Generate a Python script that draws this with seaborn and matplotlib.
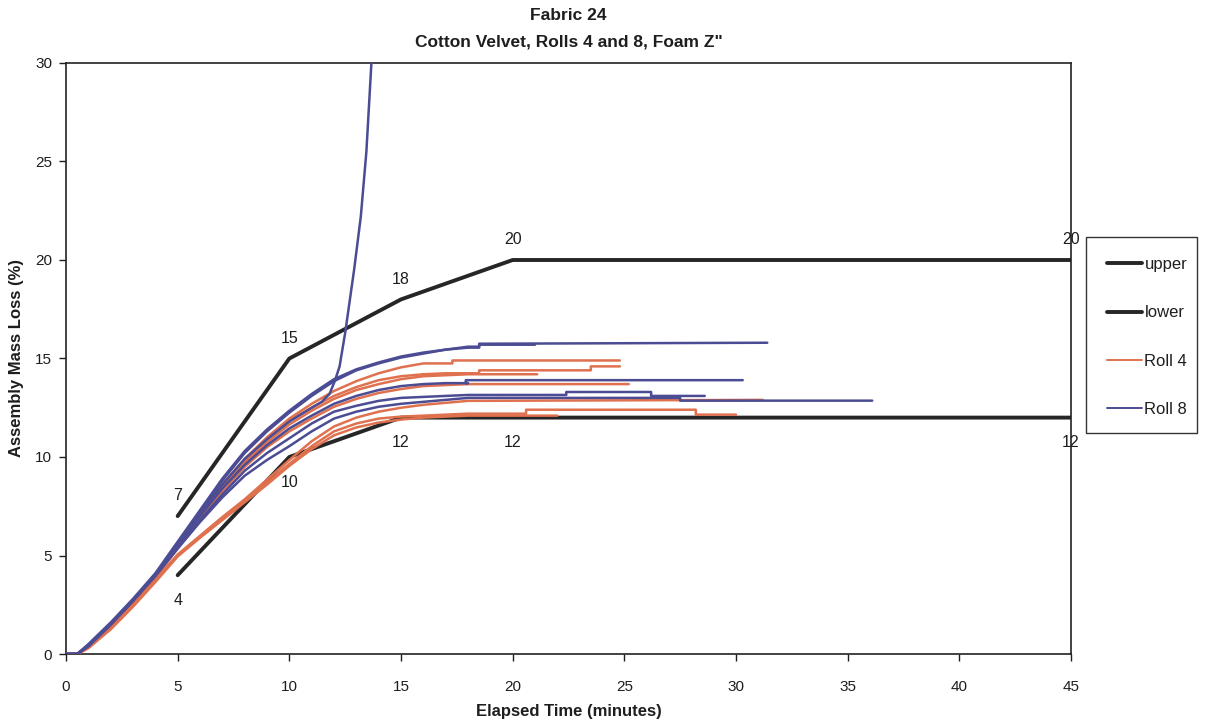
import matplotlib
matplotlib.use("Agg")
import matplotlib.pyplot as plt
import seaborn as sns
import pandas as pd
from matplotlib.lines import Line2D
from matplotlib.patches import Rectangle

# ---------------- data ----------------
upper_t = [5, 10, 15, 20, 45]
upper_y = [7, 15, 18, 20, 20]
lower_t = [5, 10, 15, 20, 45]
lower_y = [4, 10, 12, 12, 12]

upper_labels = ["7", "15", "18", "20", "20"]
lower_labels = ["4", "10", "12", "12", "12"]

rise_t = [0, 0.5, 1, 2, 3, 4, 5, 6, 7, 8, 9, 10, 11, 12, 13, 14, 15, 16, 17, 18]

# Roll 8 (blue) runs
r8_a_t = rise_t + [18.5, 18.5, 31.4]
r8_a_y = [0, 0, 0.5, 1.6, 2.8, 4.1, 5.7, 7.3, 8.9, 10.3, 11.4, 12.35, 13.2, 13.95, 14.45, 14.8, 15.1, 15.3, 15.45, 15.6, 15.6, 15.75, 15.8]
r8_b_t = rise_t + [18.5, 18.5, 21.0]
r8_b_y = [0, 0, 0.45, 1.55, 2.75, 4.0, 5.6, 7.2, 8.8, 10.2, 11.3, 12.25, 13.1, 13.85, 14.4, 14.75, 15.05, 15.25, 15.45, 15.55, 15.55, 15.7, 15.7]
r8_c_t = [0, 0.5, 1, 2, 3, 4, 5, 6, 7, 8, 9, 10, 11, 11.45, 11.8, 12.05, 12.25, 12.5, 12.9, 13.2, 13.45, 13.7]
r8_c_y = [0, 0, 0.4, 1.5, 2.7, 4.0, 5.5, 7.1, 8.6, 9.9, 10.9, 11.8, 12.5, 12.8, 13.2, 13.9, 14.6, 16.3, 19.5, 22.2, 25.5, 30.5]
r8_d_t = rise_t + [17.9, 17.9, 30.3]
r8_d_y = [0, 0, 0.4, 1.5, 2.7, 4.0, 5.5, 7.0, 8.4, 9.6, 10.6, 11.45, 12.1, 12.7, 13.1, 13.4, 13.6, 13.7, 13.75, 13.75, 13.75, 13.9, 13.9]
r8_e_t = rise_t + [22.4, 22.4, 26.2, 26.2, 28.6]
r8_e_y = [0, 0, 0.4, 1.5, 2.7, 4.0, 5.4, 6.8, 8.1, 9.3, 10.2, 10.95, 11.7, 12.3, 12.6, 12.85, 13.0, 13.05, 13.1, 13.15, 13.15, 13.3, 13.3, 13.1, 13.1]
r8_f_t = rise_t + [27.5, 27.5, 36.1]
r8_f_y = [0, 0, 0.4, 1.5, 2.7, 3.95, 5.35, 6.7, 7.95, 9.05, 9.85, 10.55, 11.3, 11.95, 12.3, 12.55, 12.7, 12.8, 12.9, 13.0, 13.0, 12.86, 12.86]

# Roll 4 (orange) runs
r4_a_t = rise_t[:-2] + [17.3, 17.3, 24.8]
r4_a_y = [0, 0, 0.4, 1.5, 2.7, 4.0, 5.5, 7.1, 8.6, 9.9, 11.0, 11.95, 12.7, 13.35, 13.85, 14.25, 14.55, 14.75, 14.75, 14.9, 14.9]
r4_b_t = rise_t + [18.5, 18.5, 23.5, 23.5, 24.8]
r4_b_y = [0, 0, 0.35, 1.45, 2.65, 3.95, 5.45, 7.0, 8.5, 9.8, 10.9, 11.85, 12.5, 13.1, 13.55, 13.9, 14.1, 14.2, 14.25, 14.25, 14.25, 14.4, 14.4, 14.6, 14.6]
r4_c_t = rise_t + [21.1]
r4_c_y = [0, 0, 0.35, 1.4, 2.6, 3.9, 5.4, 6.9, 8.4, 9.7, 10.75, 11.65, 12.35, 12.95, 13.4, 13.7, 13.95, 14.1, 14.15, 14.2, 14.2]
r4_d_t = rise_t + [25.2]
r4_d_y = [0, 0, 0.35, 1.4, 2.6, 3.9, 5.35, 6.8, 8.25, 9.5, 10.5, 11.3, 11.95, 12.55, 12.95, 13.25, 13.45, 13.6, 13.65, 13.7, 13.7]
r4_e_t = rise_t + [31.2]
r4_e_y = [0, 0, 0.35, 1.4, 2.55, 3.8, 5.05, 6.0, 6.95, 7.85, 8.85, 9.85, 10.8, 11.55, 12.0, 12.3, 12.5, 12.65, 12.75, 12.85, 12.9]
r4_f_t = rise_t + [18.4, 18.4, 20.6, 20.6, 28.2, 28.2, 30.0]
r4_f_y = [0, 0, 0.3, 1.3, 2.45, 3.7, 5.0, 5.95, 6.85, 7.75, 8.7, 9.65, 10.55, 11.3, 11.7, 11.95, 12.05, 12.1, 12.15, 12.2, 12.2, 12.2, 12.2, 12.4, 12.4, 12.15, 12.15]
r4_g_t = rise_t + [22.0]
r4_g_y = [0, 0, 0.3, 1.25, 2.4, 3.65, 4.95, 5.9, 6.8, 7.7, 8.6, 9.55, 10.4, 11.1, 11.5, 11.75, 11.9, 12.0, 12.05, 12.1, 12.1]

roll8_runs = [(r8_a_t, r8_a_y), (r8_b_t, r8_b_y), (r8_c_t, r8_c_y),
              (r8_d_t, r8_d_y), (r8_e_t, r8_e_y), (r8_f_t, r8_f_y)]
roll4_runs = [(r4_a_t, r4_a_y), (r4_b_t, r4_b_y), (r4_c_t, r4_c_y),
              (r4_d_t, r4_d_y), (r4_e_t, r4_e_y), (r4_f_t, r4_f_y), (r4_g_t, r4_g_y)]

x_ticks = [0, 5, 10, 15, 20, 25, 30, 35, 40, 45]
y_ticks = [0, 5, 10, 15, 20, 25, 30]
legend_labels = ["upper", "lower", "Roll 4", "Roll 8"]

# ---------------- style ----------------
sns.set_theme(style="white")
plt.rcParams["font.family"] = ["Liberation Sans", "DejaVu Sans"]

BLUE = "#4b4c93"
ORANGE = "#e0714f"
BLACK = "#262626"
TXT = "#1e1e1e"

W, H = 1215, 724
fig = plt.figure(figsize=(W / 100, H / 100), dpi=100)
ax = fig.add_axes([66 / W, 1 - 654 / H, (1071 - 66) / W, (654 - 63) / H])

def draw(t, y, color, lw, z):
    df = pd.DataFrame({"t": t, "y": y})
    sns.lineplot(data=df, x="t", y="y", ax=ax, color=color, lw=lw,
                 sort=False, estimator=None, legend=False, zorder=z)

draw(upper_t, upper_y, BLACK, 2.8, 2)
draw(lower_t, lower_y, BLACK, 2.8, 2)
for t, y in roll4_runs:
    draw(t, y, ORANGE, 1.8, 3)
for t, y in roll8_runs:
    draw(t, y, BLUE, 1.8, 3)

for t, y, lab in zip(upper_t, upper_y, upper_labels):
    ax.text(t, y + 0.65, lab, ha="center", va="bottom", fontsize=11.5, color=TXT)
for t, y, lab in zip(lower_t, lower_y, lower_labels):
    ax.text(t, y - 0.9, lab, ha="center", va="top", fontsize=11.5, color=TXT)

ax.set_xlim(0, 45)
ax.set_ylim(0, 30)
ax.set_xticks(x_ticks)
ax.set_yticks(y_ticks)
ax.tick_params(axis="both", labelsize=11, colors=TXT, direction="out",
               length=5, width=1, bottom=True, left=True)
ax.tick_params(axis="x", pad=14)
ax.tick_params(axis="y", pad=5)
for s in ax.spines.values():
    s.set_color("#222")
    s.set_linewidth(1.2)

ax.set_xlabel("Elapsed Time (minutes)", fontsize=12, fontweight="bold", labelpad=7, color=TXT)
ax.set_ylabel("Assembly Mass Loss (%)", fontsize=12, fontweight="bold", labelpad=8, color=TXT)

fig.text(568.5 / W, 1 - 15 / H, "Fabric 24", ha="center", va="center",
         fontsize=12.5, fontweight="bold", color=TXT)
fig.text(568.5 / W, 1 - 42 / H, "Cotton Velvet, Rolls 4 and 8, Foam Z\"", ha="center",
         va="center", fontsize=12.5, fontweight="bold", color=TXT)

# legend box
fig.patches.append(Rectangle((1086 / W, 1 - 433 / H), (1197 - 1086) / W, (433 - 237) / H,
                             transform=fig.transFigure, fill=False, edgecolor="#333",
                             lw=1.0, zorder=5))
handles = [Line2D([], [], color=BLACK, lw=2.8),
           Line2D([], [], color=BLACK, lw=2.8),
           Line2D([], [], color=ORANGE, lw=1.4),
           Line2D([], [], color=BLUE, lw=1.4)]
leg = fig.legend(handles, legend_labels, loc="upper left",
                 bbox_to_anchor=(1107 / W, 1 - 257 / H),
                 fontsize=12, frameon=False, labelspacing=2.0,
                 handlelength=2.1, handletextpad=0.15, borderpad=0, borderaxespad=0)
for txt in leg.get_texts():
    txt.set_color(TXT)

fig.savefig("out.png", dpi=100)
